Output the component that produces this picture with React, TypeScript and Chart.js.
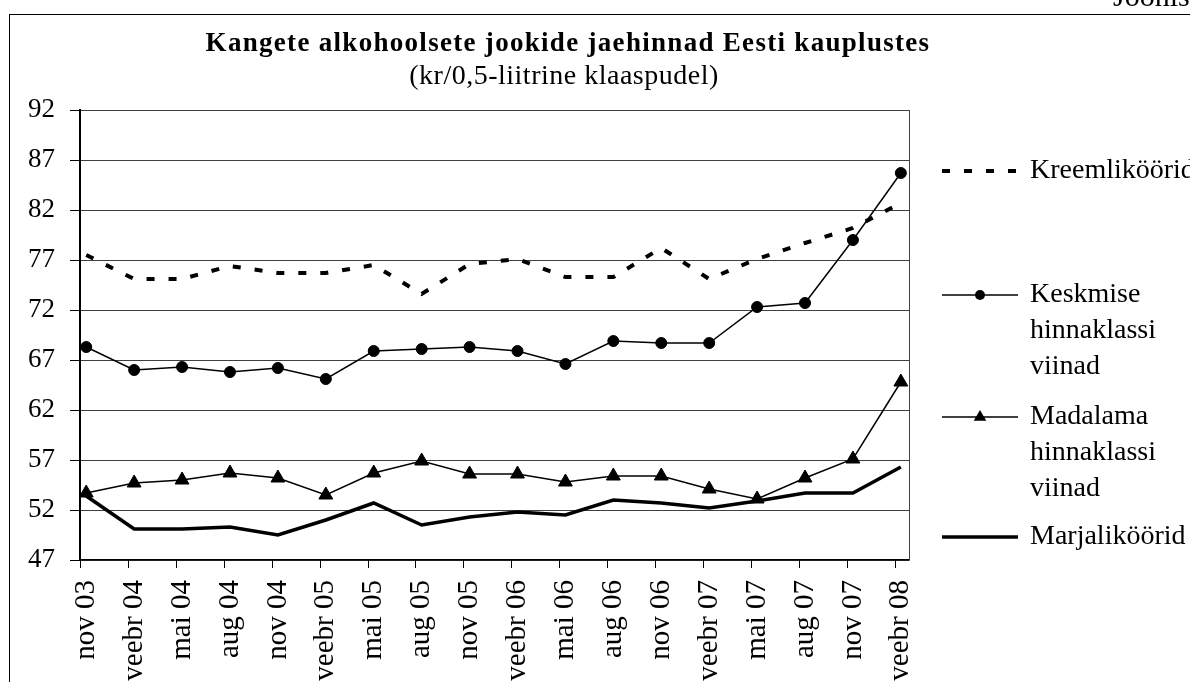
import React, { useEffect, useRef } from "react";
import { Chart, registerables } from "chart.js";

Chart.register(...registerables);

const TITLE = "Kangete alkohoolsete jookide jaehinnad Eesti kauplustes";
const SUBTITLE = "(kr/0,5-liitrine klaaspudel)";
const CORNER_TEXT = "Joonis";

const categories = [
  "nov 03", "veebr 04", "mai 04", "aug 04", "nov 04", "veebr 05",
  "mai 05", "aug 05", "nov 05", "veebr 06", "mai 06", "aug 06",
  "nov 06", "veebr 07", "mai 07", "aug 07", "nov 07", "veebr 08",
];

const kreemlikoorid = [77.5, 75.1, 75.1, 76.4, 75.7, 75.7, 76.5, 73.6, 76.6, 77.1, 75.3, 75.3, 78.2, 75.1, 77.1, 78.7, 80.2, 82.7];
const keskmiseViinad = [68.3, 66.0, 66.3, 65.8, 66.2, 65.1, 67.9, 68.1, 68.3, 67.9, 66.6, 68.9, 68.7, 68.7, 72.3, 72.7, 79.0, 85.7];
const madalamaViinad = [53.7, 54.7, 55.0, 55.7, 55.2, 53.5, 55.7, 56.9, 55.6, 55.6, 54.8, 55.4, 55.4, 54.1, 53.1, 55.2, 57.1, 64.8];
const marjalikoorid = [53.4, 50.1, 50.1, 50.3, 49.5, 51.0, 52.7, 50.5, 51.3, 51.8, 51.5, 53.0, 52.7, 52.2, 52.9, 53.7, 53.7, 56.3];

const legendLabels = [
  ["Kreemliköörid"],
  ["Keskmise", "hinnaklassi", "viinad"],
  ["Madalama", "hinnaklassi", "viinad"],
  ["Marjaliköörid"],
];

const Y_MIN = 47;
const Y_MAX = 92;
const Y_STEP = 5;
const X_MIN = -0.13;
const X_MAX = 17.17;

const SERIF = "'Liberation Serif', 'Times New Roman', Times, serif";

const toPoints = (arr: number[]) => arr.map((v, i) => ({ x: i, y: v }));

const decorPlugin = {
  id: "decor",
  beforeDraw(chart: any) {
    const ctx = chart.ctx;
    ctx.save();
    ctx.fillStyle = "#ffffff";
    ctx.fillRect(0, 0, chart.width, chart.height);
    ctx.strokeStyle = "#000";
    ctx.lineWidth = 1;
    ctx.strokeRect(9.5, 14.5, chart.width + 100, chart.height + 100);
    ctx.restore();
  },
  afterDraw(chart: any) {
    const ctx = chart.ctx;
    const area = chart.chartArea;
    ctx.save();
    ctx.fillStyle = "#000";

    // corner caption (cut off at top of page)
    ctx.font = `30px ${SERIF}`;
    ctx.textAlign = "left";
    ctx.textBaseline = "alphabetic";
    ctx.fillText(CORNER_TEXT, 1113, 6);

    // title + subtitle
    ctx.textAlign = "center";
    ctx.font = `bold 27px ${SERIF}`;
    (ctx as any).letterSpacing = "1.3px";
    ctx.fillText(TITLE, 568, 51);
    ctx.font = `28px ${SERIF}`;
    (ctx as any).letterSpacing = "0.5px";
    ctx.fillText(SUBTITLE, 564, 84);
    (ctx as any).letterSpacing = "0px";

    // right border of plot area
    ctx.strokeStyle = "#404040";
    ctx.lineWidth = 1;
    ctx.beginPath();
    ctx.moveTo(Math.round(area.right) + 0.5, area.top);
    ctx.lineTo(Math.round(area.right) + 0.5, area.bottom);
    ctx.stroke();

    // x tick marks (between-category style offset)
    const xs = chart.scales.x;
    ctx.strokeStyle = "#000";
    ctx.beginPath();
    categories.forEach((_, i) => {
      const px = Math.round(xs.getPixelForValue(i + X_MIN)) + 0.5;
      ctx.moveTo(px, area.bottom);
      ctx.lineTo(px, area.bottom + 8);
    });
    ctx.stroke();

    // legend
    const rowOffsets = [61, 185, 307, 427];
    const x0 = area.right + 33;
    const x1 = area.right + 109;
    chart.data.datasets.forEach((ds: any, k: number) => {
      const y = area.top + rowOffsets[k];
      ctx.save();
      ctx.strokeStyle = ds.borderColor;
      ctx.lineWidth = ds.borderWidth;
      ctx.setLineDash(ds.borderDash || []);
      ctx.beginPath();
      ctx.moveTo(x0, y);
      ctx.lineTo(x1, y);
      ctx.stroke();
      ctx.restore();
      const cx = (x0 + x1) / 2;
      if (ds.pointStyle === "circle" && ds.pointRadius > 0) {
        ctx.beginPath();
        ctx.arc(cx, y, 5, 0, Math.PI * 2);
        ctx.fill();
      } else if (ds.pointStyle === "triangle" && ds.pointRadius > 0) {
        const r = 7;
        ctx.beginPath();
        ctx.moveTo(cx, y - r);
        ctx.lineTo(cx + r * 0.9, y + r * 0.55);
        ctx.lineTo(cx - r * 0.9, y + r * 0.55);
        ctx.closePath();
        ctx.fill();
      }
      ctx.font = `28px ${SERIF}`;
      ctx.textAlign = "left";
      ctx.textBaseline = "middle";
      legendLabels[k].forEach((line, j) => {
        ctx.fillText(line, area.right + 121, y + j * 36);
      });
    });
    ctx.restore();
  },
};

export default function App() {
  const canvasRef = useRef<HTMLCanvasElement | null>(null);

  useEffect(() => {
    const canvas = canvasRef.current;
    if (!canvas) return;
    const chart = new Chart(canvas, {
      type: "line",
      data: {
        datasets: [
          {
            label: legendLabels[0].join(" "),
            data: toPoints(kreemlikoorid),
            borderColor: "#000",
            backgroundColor: "#000",
            borderWidth: 4,
            borderDash: [8, 14],
            pointRadius: 0,
            pointStyle: false as any,
            tension: 0,
          },
          {
            label: legendLabels[1].join(" "),
            data: toPoints(keskmiseViinad),
            borderColor: "#000",
            backgroundColor: "#000",
            borderWidth: 1.5,
            pointStyle: "circle",
            pointRadius: 5.5,
            pointBorderWidth: 1,
            tension: 0,
          },
          {
            label: legendLabels[2].join(" "),
            data: toPoints(madalamaViinad),
            borderColor: "#000",
            backgroundColor: "#000",
            borderWidth: 1.5,
            pointStyle: "triangle",
            pointRadius: 8,
            pointBorderWidth: 1,
            tension: 0,
          },
          {
            label: legendLabels[3].join(" "),
            data: toPoints(marjalikoorid),
            borderColor: "#000",
            backgroundColor: "#000",
            borderWidth: 3.5,
            pointRadius: 0,
            pointStyle: false as any,
            tension: 0,
          },
        ],
      },
      options: {
        responsive: false,
        animation: false,
        layout: { padding: { left: 0, top: 110, right: 281, bottom: 0 } },
        plugins: {
          legend: { display: false },
          title: { display: false },
          tooltip: { enabled: false },
        },
        scales: {
          x: {
            type: "linear",
            min: X_MIN,
            max: X_MAX,
            bounds: "data",
            afterBuildTicks: (scale: any) => {
              scale.ticks = categories.map((_, i) => ({ value: i }));
            },
            afterFit: (scale: any) => {
              scale.height = 122;
            },
            grid: { display: true, drawOnChartArea: false, drawTicks: false },
            border: { display: true, color: "#000", width: 1.5 },
            ticks: {
              autoSkip: false,
              minRotation: 90,
              maxRotation: 90,
              padding: 20,
              color: "#000",
              font: { family: SERIF, size: 29 },
              callback: (v: any) => categories[Math.round(Number(v))] ?? "",
            },
          },
          y: {
            type: "linear",
            min: Y_MIN,
            max: Y_MAX,
            afterFit: (scale: any) => {
              scale.width = 80;
            },
            grid: {
              color: "#404040",
              lineWidth: 1,
              tickColor: "#000",
              tickLength: 10,
              drawTicks: true,
            },
            border: { display: true, color: "#000", width: 2 },
            ticks: {
              stepSize: Y_STEP,
              padding: 15,
              color: "#000",
              font: { family: SERIF, size: 27 },
            },
          },
        },
      },
      plugins: [decorPlugin],
    });
    return () => chart.destroy();
  }, []);

  return (
    <div
      style={{
        position: "fixed",
        left: 0,
        top: 0,
        width: 1190,
        height: 682,
        background: "#fff",
        overflow: "hidden",
      }}
    >
      <canvas ref={canvasRef} width={1190} height={682} style={{ display: "block" }} />
    </div>
  );
}
